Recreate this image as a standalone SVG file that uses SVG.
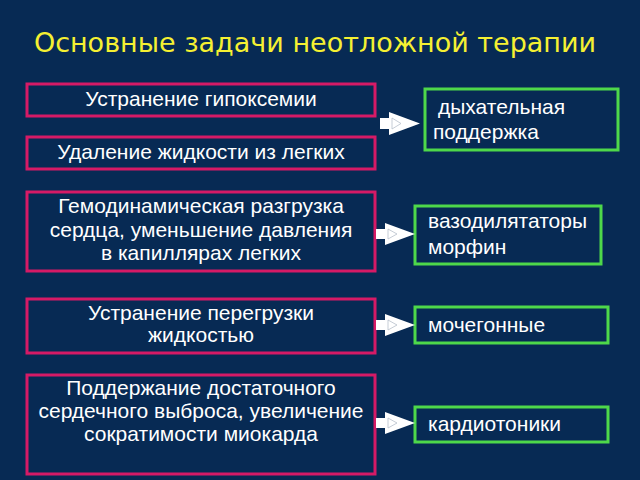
<svg xmlns="http://www.w3.org/2000/svg" width="640" height="480" viewBox="0 0 640 480">
<style>
.bg{fill:#072a54}
.task{fill:#072a54;stroke:#d61a66;stroke-width:3}
.res{fill:#072a54;stroke:#4ed84a;stroke-width:3}
.t{font-family:"Liberation Sans",Arial,sans-serif;font-size:21px;fill:#ffffff}
.c{text-anchor:middle}
.title{font-family:"DejaVu Sans","Noto Sans",sans-serif;font-size:27px;fill:#f5f032;text-anchor:middle}
.arr{fill:#ffffff}
.ghost{fill:none;stroke:#b8c0cc;stroke-width:0.8}
</style>
<rect class="bg" x="0" y="0" width="640" height="480"/>
<text class="title" x="315" y="52">Основные задачи неотложной терапии</text>

<g id="task1"><rect class="task" x="27" y="84" width="348" height="32"/><text class="t c" x="201" y="106">Устранение гипоксемии</text></g>
<g id="task2"><rect class="task" x="27" y="137" width="348" height="32"/><text class="t c" x="201" y="159">Удаление жидкости из легких</text></g>
<g id="task3"><rect class="task" x="27" y="192" width="348" height="79"/>
<text class="t c" x="201" y="213">Гемодинамическая разгрузка</text>
<text class="t c" x="201" y="237">сердца, уменьшение давления</text>
<text class="t c" x="201" y="260">в капиллярах легких</text></g>
<g id="task4"><rect class="task" x="27" y="299" width="348" height="54"/>
<text class="t c" x="201" y="320">Устранение перегрузки</text>
<text class="t c" x="201" y="342">жидкостью</text></g>
<g id="task5"><rect class="task" x="27" y="375" width="348" height="99"/>
<text class="t c" x="201" y="395">Поддержание достаточного</text>
<text class="t c" x="201" y="418">сердечного выброса, увеличение</text>
<text class="t c" x="201" y="441">сократимости миокарда</text></g>

<g id="res1"><rect class="res" x="425" y="89" width="193" height="61"/>
<text class="t" x="438" y="114">дыхательная</text>
<text class="t" x="433" y="139">поддержка</text></g>
<g id="res2"><rect class="res" x="415" y="206" width="186" height="58"/>
<text class="t" x="428" y="228">вазодилятаторы</text>
<text class="t" x="428" y="254">морфин</text></g>
<g id="res3"><rect class="res" x="415" y="307" width="193" height="36"/>
<text class="t" x="428" y="332">мочегонные</text></g>
<g id="res4"><rect class="res" x="415" y="407" width="193" height="35"/>
<text class="t" x="428" y="431">кардиотоники</text></g>

<g id="connectors">
<path class="arr" d="M380,118 H389 V112 L420,123.5 L389,135 V129 H380 Z"/>
<path class="ghost" d="M392,118 L401,123.5 L392,129 Z"/>
<path class="arr" d="M376,229 H385 V223 L415,234 L385,245 V239 H376 Z"/>
<path class="ghost" d="M388,229 L397,234 L388,239 Z"/>
<path class="arr" d="M376,320 H385 V314 L415,325 L385,336 V330 H376 Z"/>
<path class="ghost" d="M388,320 L397,325 L388,330 Z"/>
<path class="arr" d="M376,418 H385 V412 L415,423 L385,434 V428 H376 Z"/>
<path class="ghost" d="M388,418 L397,423 L388,428 Z"/>
</g>
</svg>
